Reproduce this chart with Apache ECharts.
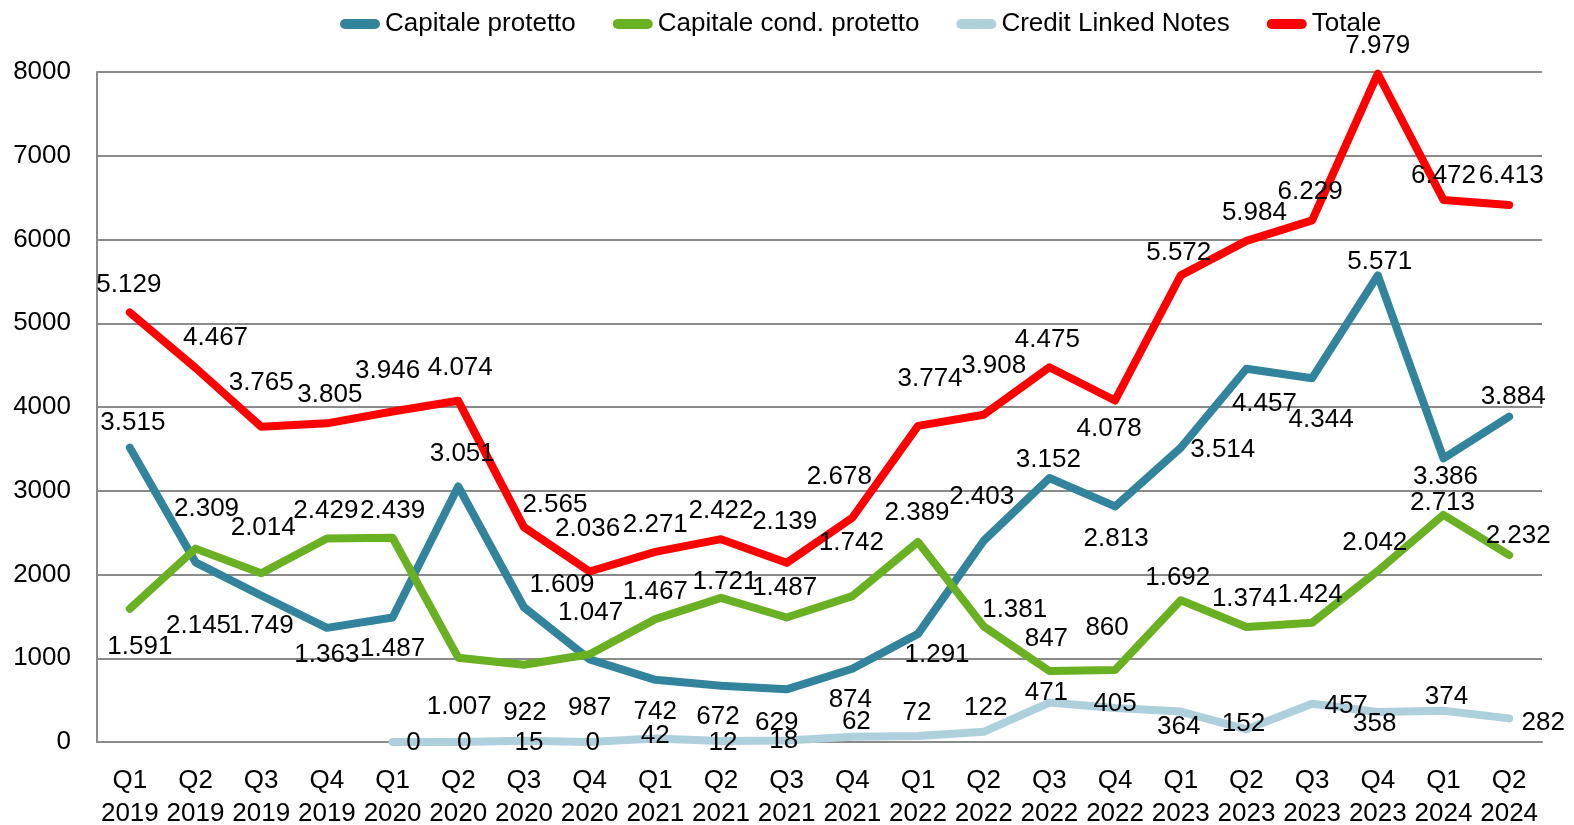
<!DOCTYPE html>
<html>
<head>
<meta charset="utf-8">
<script src="https://cdn.jsdelivr.net/npm/echarts@6/dist/echarts.min.js"></script>
<style>
html,body{margin:0;padding:0;background:#fff;}
#chart{width:1574px;height:825px;}
</style>
</head>
<body>
<div id="chart"></div>
<script>
const categories = ['Q1\n2019','Q2\n2019','Q3\n2019','Q4\n2019','Q1\n2020','Q2\n2020','Q3\n2020','Q4\n2020','Q1\n2021','Q2\n2021','Q3\n2021','Q4\n2021','Q1\n2022','Q2\n2022','Q3\n2022','Q4\n2022','Q1\n2023','Q2\n2023','Q3\n2023','Q4\n2023','Q1\n2024','Q2\n2024'];
const yTicks = [0, 1000, 2000, 3000, 4000, 5000, 6000, 7000, 8000];

const capitaleProtetto = [3515, 2145, 1749, 1363, 1487, 3051, 1609, 987, 742, 672, 629, 874, 1291, 2403, 3152, 2813, 3514, 4457, 4344, 5571, 3386, 3884];
const capitaleCondProtetto = [1591, 2309, 2014, 2429, 2439, 1007, 922, 1047, 1467, 1721, 1487, 1742, 2389, 1381, 847, 860, 1692, 1374, 1424, 2042, 2713, 2232];
const creditLinkedNotes = [null, null, null, null, 0, 0, 15, 0, 42, 12, 18, 62, 72, 122, 471, 405, 364, 152, 457, 358, 374, 282];
const totale = [5129, 4467, 3765, 3805, 3946, 4074, 2565, 2036, 2271, 2422, 2139, 2678, 3774, 3908, 4475, 4078, 5572, 5984, 6229, 7979, 6472, 6413];

// label placement (pixel offsets of label centre from the point)
const offProtetto = [[3,-25],[3,63],[0,30],[0,27],[0,31],[4,-33],[38,-22],[0,48],[0,32],[-3,31],[-10,34],[-2,31],[19,21],[-2,-44],[-1,-18],[1,32],[42,2],[18,35],[9,42],[2,-14],[2,18],[4,-20]];
const offCond = [[10,38],[11,-40],[2,-45],[-1,-28],[0,-27],[1,49],[1,48],[1,-41],[0,-27],[4,-16],[-2,-30],[-1,-53],[-1,-29],[31,-17],[-3,-32],[-8,-42],[-3,-22],[-2,-28],[-2,-28],[-3,-28],[-1,-12],[9,-19]];
const offCredit = [null,null,null,null,[21,1],[6,1],[5,2],[3,1],[0,-3],[2,2],[-3,0],[4,-15],[-1,-23],[2,-24],[-3,-10],[0,-4],[-2,15],[-3,-5],[34,2],[-3,12],[3,-14],[34,4]];
const offTotale = [[-1,-28],[20,-30],[0,-44],[3,-29],[-5,-41],[2,-33],[31,-22],[-2,-43],[0,-27],[0,-28],[-2,-41],[-13,-41],[12,-47],[10,-49],[-2,-27],[-6,28],[-2,-23],[8,-28],[-2,-28],[0,-28],[0,-24],[2,-29]];

const FONT = '"Liberation Sans", Arial, sans-serif';
const PILL = 'path://M5,0 L35,0 A5,5 0 0 1 35,10 L5,10 A5,5 0 0 1 5,0 Z';
function fmt(v){ return String(v).replace(/\B(?=(\d{3})+(?!\d))/g, '.'); }

function buildData(values, offsets){
  return values.map((v, i) => v === null ? null : ({
    value: v,
    label: { offset: offsets[i] }
  }));
}

function mkSeries(name, values, offsets, color){
  return {
    name: name,
    type: 'line',
    data: buildData(values, offsets),
    symbol: 'circle',
    symbolSize: 2,
    showSymbol: true,
    connectNulls: false,
    lineStyle: { width: 8, color: color, cap: 'round', join: 'round' },
    itemStyle: { color: color },
    label: {
      show: true,
      position: 'inside',
      formatter: p => fmt(p.value),
      fontFamily: FONT,
      fontSize: 26,
      color: '#000'
    },
    emphasis: { disabled: true },
    animation: false
  };
}

const chart = echarts.init(document.getElementById('chart'), null, { renderer: 'canvas' });
chart.setOption({
  backgroundColor: '#ffffff',
  animation: false,
  legend: {
    left: 335,
    top: 6,
    icon: PILL,
    itemWidth: 40,
    itemHeight: 10,
    itemGap: 37,
    textStyle: { fontFamily: FONT, fontSize: 26, color: '#000' },
    data: ['Capitale protetto', 'Capitale cond. protetto', 'Credit Linked Notes', 'Totale']
  },
  grid: { left: 97, right: 32, top: 72, bottom: 83, containLabel: false, outerBoundsMode: 'none' },
  xAxis: {
    type: 'category',
    data: categories,
    boundaryGap: true,
    axisLine: { show: true, lineStyle: { color: '#8a8a8a', width: 2 } },
    axisTick: { show: false },
    axisLabel: { fontFamily: FONT, fontSize: 26, color: '#000', margin: 22, lineHeight: 33, interval: 0 }
  },
  yAxis: {
    type: 'value',
    min: yTicks[0],
    max: yTicks[yTicks.length - 1],
    interval: yTicks[1] - yTicks[0],
    axisLine: { show: true, lineStyle: { color: '#8a8a8a', width: 2 } },
    axisTick: { show: false },
    splitLine: { show: true, lineStyle: { color: '#8a8a8a', width: 2 } },
    axisLabel: { fontFamily: FONT, fontSize: 26, color: '#000', margin: 26, formatter: v => String(v) }
  },
  series: [
    mkSeries('Capitale protetto', capitaleProtetto, offProtetto, '#31849B'),
    mkSeries('Capitale cond. protetto', capitaleCondProtetto, offCond, '#6AB023'),
    mkSeries('Credit Linked Notes', creditLinkedNotes, offCredit, '#AECFDC'),
    mkSeries('Totale', totale, offTotale, '#FF0000')
  ]
});
</script>
</body>
</html>
